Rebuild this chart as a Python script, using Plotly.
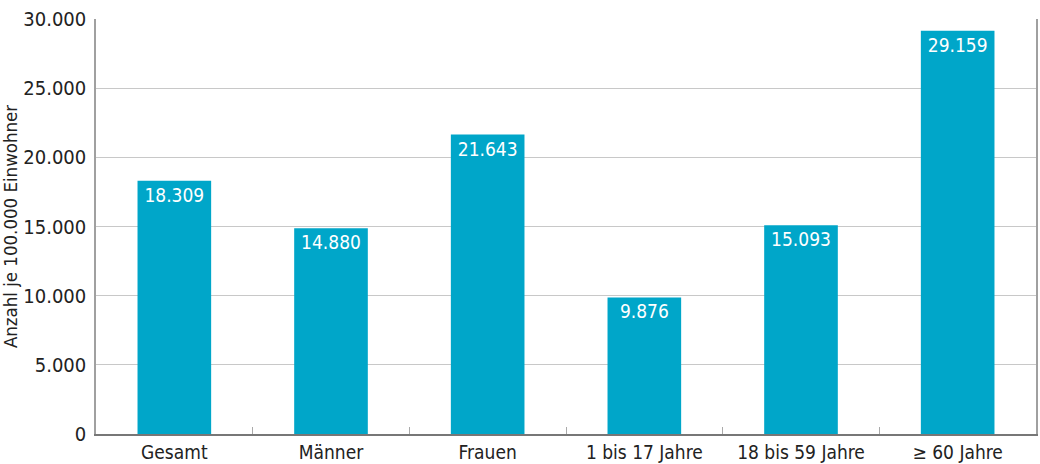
import plotly.graph_objects as go

categories = ["Gesamt", "Männer", "Frauen", "1 bis 17 Jahre", "18 bis 59 Jahre", "≥ 60 Jahre"]
values = [18309, 14880, 21643, 9876, 15093, 29159]
y_ticks = [0, 5000, 10000, 15000, 20000, 25000, 30000]

FONT = "DejaVu Sans Condensed, Liberation Sans Narrow, sans-serif"
BAR_COLOR = "#00a6c9"

fig = go.Figure(
    go.Bar(
        x=categories,
        y=values,
        marker=dict(color=BAR_COLOR, line=dict(width=0)),
        width=0.47,
        texttemplate="%{y:,}",
        textposition="inside",
        insidetextanchor="end",
        textangle=0,
        textfont=dict(family=FONT, size=19, color="white"),
        cliponaxis=False,
    )
)

fig.update_layout(
    width=1040,
    height=464,
    margin=dict(l=96, r=4, t=19, b=30),
    paper_bgcolor="white",
    plot_bgcolor="white",
    separators=",.",
    showlegend=False,
    font=dict(family=FONT, size=19, color="#222222"),
    xaxis=dict(
        showline=True,
        linecolor="#777777",
        linewidth=1.5,
        tickson="boundaries",
        ticks="inside",
        ticklen=7,
        tickcolor="#aaaaaa",
        tickwidth=1,
        showgrid=False,
        automargin=False,
        tickfont=dict(family=FONT, size=19, color="#222222"),
    ),
    yaxis=dict(
        range=[0, 30000],
        tickvals=y_ticks,
        tickformat=",d",
        showgrid=True,
        gridcolor="#c8c8c8",
        gridwidth=1,
        showline=True,
        mirror=True,
        linecolor="#a0a0a0",
        linewidth=1.5,
        ticks="",
        zeroline=False,
        automargin=False,
        ticklabelstandoff=4,
        tickfont=dict(family=FONT, size=20, color="#222222"),
        title=dict(text="Anzahl je 100.000 Einwohner", standoff=6,
                   font=dict(family=FONT, size=18.5, color="#222222")),
    ),
)

fig.write_html("out.html")
